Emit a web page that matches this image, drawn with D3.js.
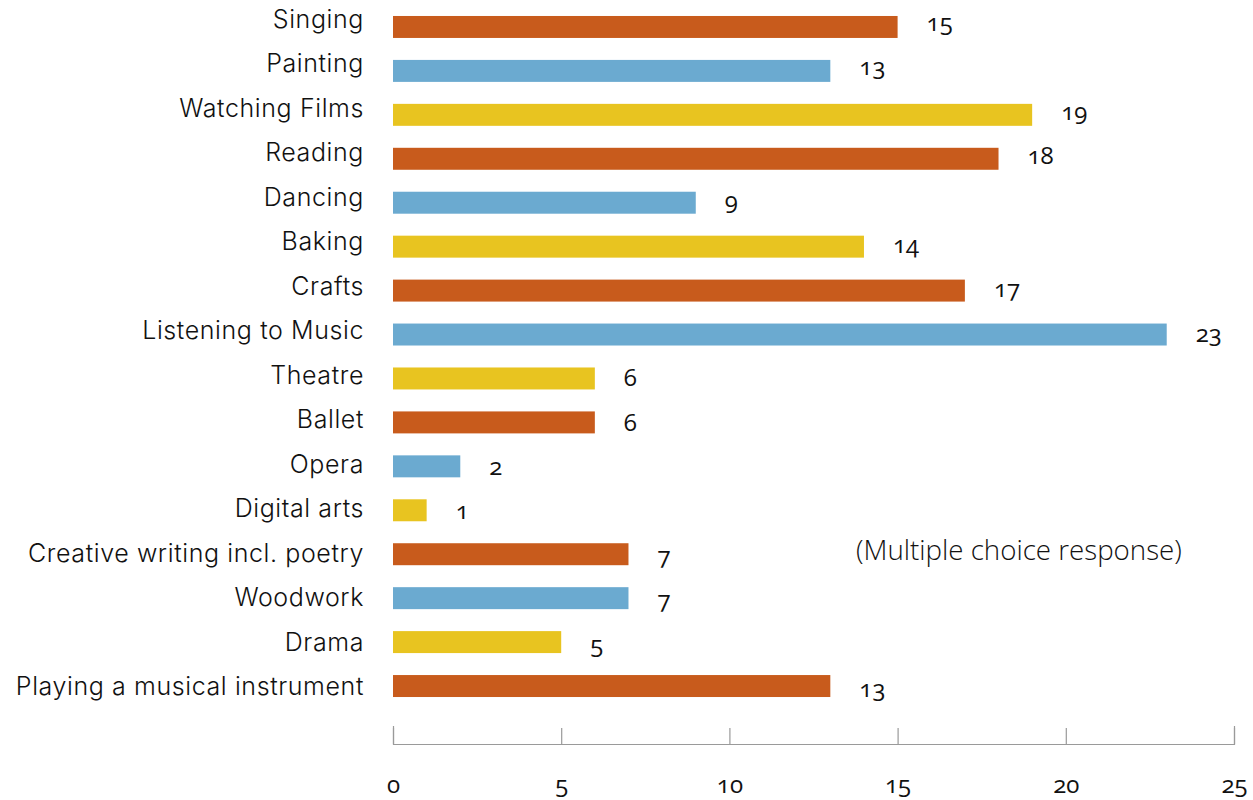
<!DOCTYPE html>
<html>
<head>
<meta charset="utf-8">
<script src="https://cdn.jsdelivr.net/npm/d3@7"></script>
<style>
  html, body { margin: 0; padding: 0; background: #fff; }
  svg { display: block; }
  .cat { font-family: Inter, Lato, "Noto Sans", sans-serif; font-weight: 300; font-size: 25px; letter-spacing: 0.6px; fill: #111; }
  .val, .tick text { font-family: "Open Sans", "Noto Sans", sans-serif; font-weight: 400; font-size: 24px; fill: #111; font-variant-numeric: oldstyle-nums; font-feature-settings: "onum" 1; }
  .note { font-family: "Open Sans", "Noto Sans", sans-serif; font-weight: 300; font-size: 27.7px; fill: #111; }
</style>
</head>
<body>
<svg id="chart" width="1253" height="800"></svg>
<script>
// ---- data ----
const categories = [
  "Singing", "Painting", "Watching Films", "Reading", "Dancing", "Baking",
  "Crafts", "Listening to Music", "Theatre", "Ballet", "Opera", "Digital arts",
  "Creative writing incl. poetry", "Woodwork", "Drama", "Playing a musical instrument"
];
const values = [15, 13, 19, 18, 9, 14, 17, 23, 6, 6, 2, 1, 7, 7, 5, 13];
const xTicks = [0, 5, 10, 15, 20, 25];
const note = "(Multiple choice response)";

// ---- styles ----
const palette = ["#C85B1C", "#6BAAD0", "#E8C420"];

const svg = d3.select("#chart");

const x = d3.scaleLinear().domain([0, 25]).range([393, 1234]);
const y = d3.scaleBand().domain(categories).range([5, 708]).paddingInner(0.5).paddingOuter(0.25);
// text baselines (labels are spaced slightly wider than bars in the reference)
const yCat = d3.scalePoint().domain(categories).range([28, 695]);
const yVal = d3.scalePoint().domain(categories).range([31, 697]);

// bars
svg.append("g").selectAll("rect")
  .data(categories)
  .join("rect")
  .attr("x", x(0))
  .attr("y", d => y(d))
  .attr("width", (d, i) => x(values[i]) - x(0))
  .attr("height", y.bandwidth())
  .attr("fill", (d, i) => palette[i % palette.length]);

// category labels
svg.append("g").selectAll("text")
  .data(categories)
  .join("text")
  .attr("class", "cat")
  .attr("x", 364)
  .attr("y", d => yCat(d))
  .attr("text-anchor", "end")
  .text(d => d);

// value labels
svg.append("g").selectAll("text")
  .data(categories)
  .join("text")
  .attr("class", "val")
  .attr("x", (d, i) => x(values[i]) + 29)
  .attr("y", d => yVal(d))
  .text((d, i) => values[i]);

// axis
const axis = d3.axisBottom(x)
  .tickValues(xTicks)
  .tickFormat(d3.format("d"))
  .tickSizeInner(-16)
  .tickSizeOuter(-18)
  .tickPadding(32);
const ag = svg.append("g").attr("transform", "translate(0,744)").call(axis);
ag.attr("font-size", null).attr("font-family", null);
ag.select(".domain").attr("stroke", "#9a9a9a").attr("stroke-width", 1.2);
ag.selectAll(".tick line").attr("stroke", "#9a9a9a").attr("stroke-width", 1.2);

// note
svg.append("text")
  .attr("class", "note")
  .attr("x", 856)
  .attr("y", 560)
  .text(note);
</script>
</body>
</html>
